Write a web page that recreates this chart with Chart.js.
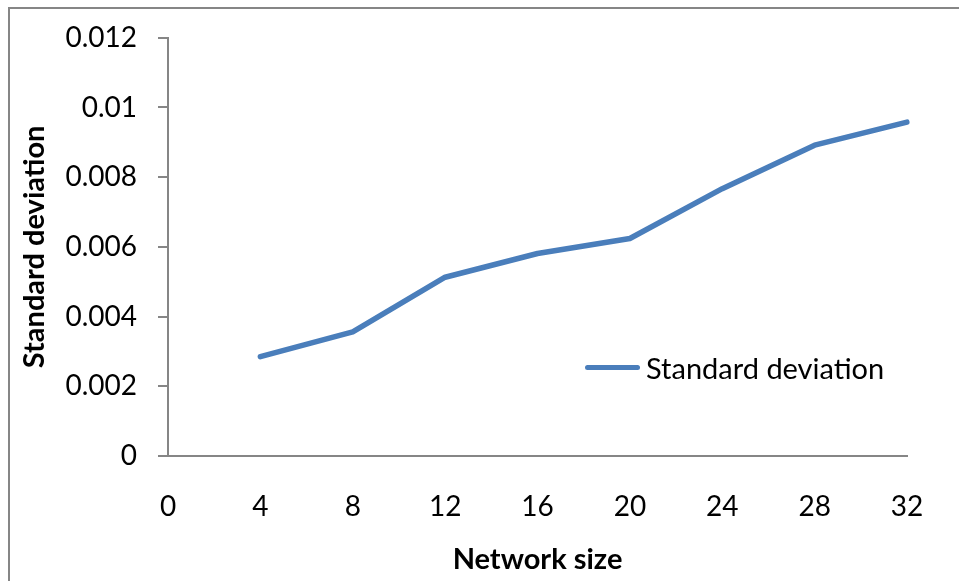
<!DOCTYPE html>
<html>
<head>
<meta charset="utf-8">
<script src="https://cdn.jsdelivr.net/npm/chart.js@4/dist/chart.umd.min.js"></script>
<style>
  body { margin: 0; background: #fff; }
  #wrap { position: relative; width: 959px; height: 581px; }
  #legend { position: absolute; left: 585px; top: 350px; display: flex; align-items: center;
            font-family: Lato, "Open Sans", sans-serif; font-size: 29px; color: #000; }
  #legend .swatch { display: inline-block; width: 55px; height: 5px; border-radius: 3px; margin-right: 6px; }
</style>
</head>
<body>
<div id="wrap">
  <canvas id="chart" width="959" height="581"></canvas>
  <div id="legend"></div>
</div>
<script>
// network sizes on the x axis (0 has no value)
const sizes = ['0', '4', '8', '12', '16', '20', '24', '28', '32'];
const stdDev = [null, 0.00285, 0.00356, 0.00513, 0.00581, 0.00624, 0.00767, 0.00892, 0.00958];
const yTicks = [0, 0.002, 0.004, 0.006, 0.008, 0.01, 0.012];
const yTickLabels = ['0', '0.002', '0.004', '0.006', '0.008', '0.01', '0.012'];

const lineColor = '#4A7EBB';
const axisColor = '#868686';

Chart.defaults.color = '#000';
Chart.defaults.font.family = 'Lato, "Open Sans", sans-serif';

// outer frame round the whole chart
const frame = {
  id: 'frame',
  beforeDraw(chart) {
    const c = chart.ctx;
    c.save();
    c.strokeStyle = axisColor;
    c.lineWidth = 2;
    c.strokeRect(9, 8, 1000, 1000);
    c.restore();
  }
};

const ctx = document.getElementById('chart').getContext('2d');
const chart = new Chart(ctx, {
  type: 'line',
  data: {
    labels: sizes,
    datasets: [{
      label: 'Standard deviation',
      data: stdDev,
      borderColor: lineColor,
      backgroundColor: lineColor,
      borderWidth: 5.5,
      borderCapStyle: 'round',
      borderJoinStyle: 'round',
      pointRadius: 0,
      tension: 0,
      fill: false
    }]
  },
  options: {
    responsive: false,
    animation: false,
    layout: { padding: { left: 0, top: 35, right: 52, bottom: 0 } },
    plugins: {
      legend: { display: false },
      tooltip: { enabled: false }
    },
    scales: {
      x: {
        type: 'category',
        offset: false,
        grid: { display: false, drawTicks: false },
        border: { display: true, color: axisColor, width: 2 },
        ticks: { font: { size: 28 }, padding: 34, maxRotation: 0, autoSkip: false },
        title: { display: true, text: 'Network size', font: { size: 29, weight: 'bold' }, padding: { top: 0, bottom: 4 } },
        afterFit(scale) { scale.height = 581 - 456; }
      },
      y: {
        min: 0,
        max: 0.012,
        afterBuildTicks(scale) { scale.ticks = yTicks.map(v => ({ value: v })); },
        grid: { display: true, drawOnChartArea: false, drawTicks: true, tickLength: 10, color: axisColor, lineWidth: 2 },
        border: { display: true, color: axisColor, width: 2 },
        ticks: {
          font: { size: 28 },
          padding: 21,
          callback: (v, i) => yTickLabels[i]
        },
        title: { display: true, text: 'Standard deviation', font: { size: 29, weight: 'bold' }, padding: { top: 17, bottom: 0 } },
        afterFit(scale) { scale.width = 168; }
      }
    }
  },
  plugins: [frame]
});

// legend as html, built from the dataset
const legend = document.getElementById('legend');
chart.data.datasets.forEach(ds => {
  const sw = document.createElement('span');
  sw.className = 'swatch';
  sw.style.background = ds.borderColor;
  const tx = document.createElement('span');
  tx.textContent = ds.label;
  legend.appendChild(sw);
  legend.appendChild(tx);
});
</script>
</body>
</html>
